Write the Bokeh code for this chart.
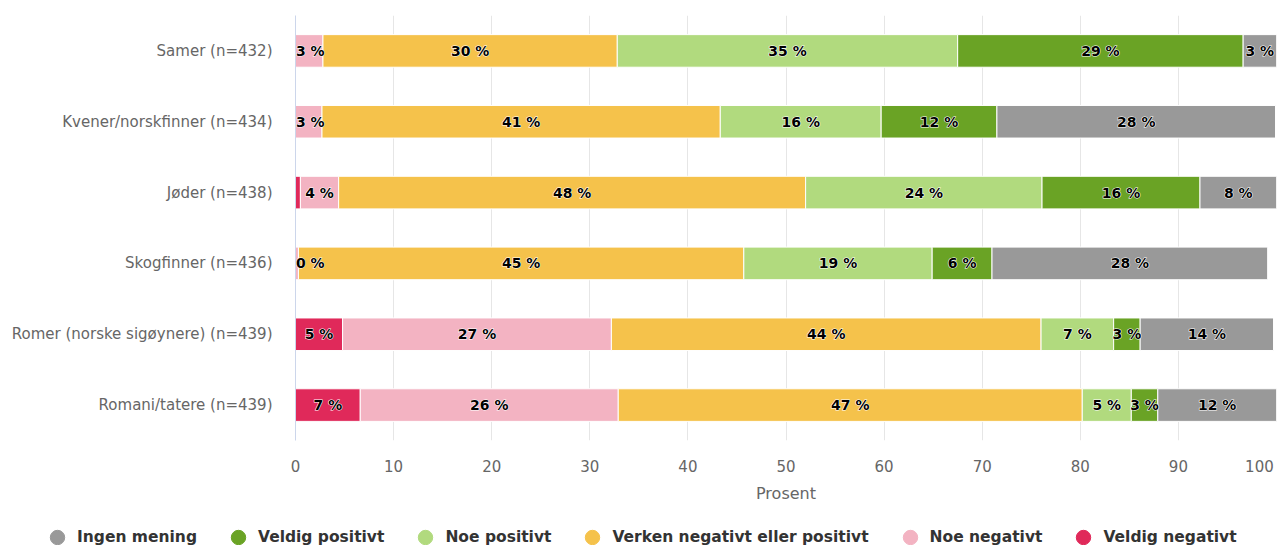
from bokeh.plotting import figure
from bokeh.layouts import column
from bokeh.models import ColumnDataSource, FactorRange, Range1d, Legend, LegendItem, FixedTicker
from bokeh.core.properties import value
from bokeh.embed import file_html
from bokeh.resources import INLINE

categories = ["Samer (n=432)", "Kvener/norskfinner (n=434)", "Jøder (n=438)",
              "Skogfinner (n=436)", "Romer (norske sigøynere) (n=439)", "Romani/tatere (n=439)"]
series = ["Veldig negativt", "Noe negativt", "Verken negativt eller positivt",
          "Noe positivt", "Veldig positivt", "Ingen mening"]
colors = ["#e0295a", "#f3b3c2", "#f5c24b", "#b1da7e", "#6aa325", "#999999"]

veldig_negativt = [0.0, 0.0, 0.5, 0.0, 4.8, 6.6]
noe_negativt = [2.8, 2.7, 3.9, 0.3, 27.4, 26.3]
verken = [30.0, 40.6, 47.6, 45.4, 43.8, 47.3]
noe_positivt = [34.7, 16.4, 24.1, 19.2, 7.4, 5.0]
veldig_positivt = [29.1, 11.8, 16.1, 6.1, 2.7, 2.7]
ingen_mening = [3.4, 28.4, 7.8, 28.1, 13.6, 12.1]

x_ticks = [0, 10, 20, 30, 40, 50, 60, 70, 80, 90, 100]
x_axis_label = "Prosent"
hidden_labels = [("Jøder (n=438)", "Veldig negativt")]

values = [veldig_negativt, noe_negativt, verken, noe_positivt, veldig_positivt, ingen_mening]
keys = ["s%d" % i for i in range(len(series))]

data = {"cat": categories}
for k, v in zip(keys, values):
    data[k] = v
src = ColumnDataSource(data)

FONT = "DejaVu Sans"
MIN_LABEL_CENTER = 1.5  # keep data labels inside the plot area

p = figure(width=1278, height=505, y_range=FactorRange(*reversed(categories)),
           x_range=Range1d(0, 100), output_backend="svg", toolbar_location=None,
           min_border_left=295, min_border_right=2, min_border_top=15, min_border_bottom=63)
p.outline_line_color = None
p.background_fill_color = "white"
p.frame_align = False

p.hbar_stack(keys, y="cat", height=0.46, color=colors, source=src,
             line_color="white", line_width=1)

# data labels
lx, ly, lt = [], [], []
for ci, cat in enumerate(categories):
    start = 0.0
    for si, name in enumerate(series):
        v = values[si][ci]
        if v > 0 and (cat, name) not in hidden_labels:
            lx.append(max(start + v / 2.0, MIN_LABEL_CENTER))
            ly.append(cat)
            lt.append("%d %%" % round(v))
        start += v
# white halo, then black text on top
p.text(x=lx, y=ly, text=lt, text_align="center", text_baseline="middle",
       text_font=value(FONT), text_font_style="bold", text_font_size="14px",
       text_color="white", text_outline_color="white")
p.text(x=lx, y=ly, text=lt, text_align="center", text_baseline="middle",
       text_font=value(FONT), text_font_style="bold", text_font_size="14px",
       text_color="#000000")

# axes
p.xaxis.ticker = FixedTicker(ticks=x_ticks)
p.xaxis.major_label_overrides = {x_ticks[-1]: str(x_ticks[-1]) + "\u00a0"}
p.xaxis.axis_line_color = None
p.xaxis.major_tick_line_color = None
p.xaxis.minor_tick_line_color = None
p.xaxis.major_tick_out = 0
p.xaxis.major_label_standoff = 17
p.xaxis.major_label_text_font = FONT
p.xaxis.major_label_text_font_size = "15px"
p.xaxis.major_label_text_color = "#666666"
p.xaxis.axis_label = x_axis_label
p.xaxis.axis_label_text_font = FONT
p.xaxis.axis_label_text_font_size = "16px"
p.xaxis.axis_label_text_font_style = "normal"
p.xaxis.axis_label_text_color = "#666666"
p.xaxis.axis_label_standoff = 5

p.yaxis.axis_line_color = "#ccd6eb"
p.yaxis.major_tick_line_color = None
p.yaxis.minor_tick_line_color = None
p.yaxis.major_tick_out = 0
p.yaxis.major_label_standoff = 23
p.yaxis.major_label_text_font = FONT
p.yaxis.major_label_text_font_size = "15px"
p.yaxis.major_label_text_color = "#666666"

p.xgrid.grid_line_color = "#e6e6e6"
p.xgrid.ticker = FixedTicker(ticks=x_ticks)
p.ygrid.grid_line_color = None

# legend in its own strip below the chart
lg = figure(width=1278, height=40, x_range=Range1d(0, 1), y_range=Range1d(0, 1),
            output_backend="svg", toolbar_location=None, x_axis_type=None, y_axis_type=None,
            min_border_left=0, min_border_right=0, min_border_top=0, min_border_bottom=0)
lg.outline_line_color = None
lg.grid.visible = False
lg.frame_align = False
items = []
for name, color in reversed(list(zip(series, colors))):
    r = lg.scatter(x=[float("nan")], y=[float("nan")], marker="circle", color=color)
    items.append(LegendItem(label=name, renderers=[r]))
legend = Legend(items=items, orientation="horizontal", location=(39, -10),
                glyph_width=36, glyph_height=36, label_standoff=2, spacing=23,
                padding=0, margin=0, border_line_color=None, background_fill_alpha=0,
                label_text_font=FONT, label_text_font_style="bold",
                label_text_font_size="15.5px", label_text_color="#333333")
lg.add_layout(legend, "center")

layout = column(p, lg, spacing=0)
open("out.html", "w").write(file_html(layout, INLINE))
